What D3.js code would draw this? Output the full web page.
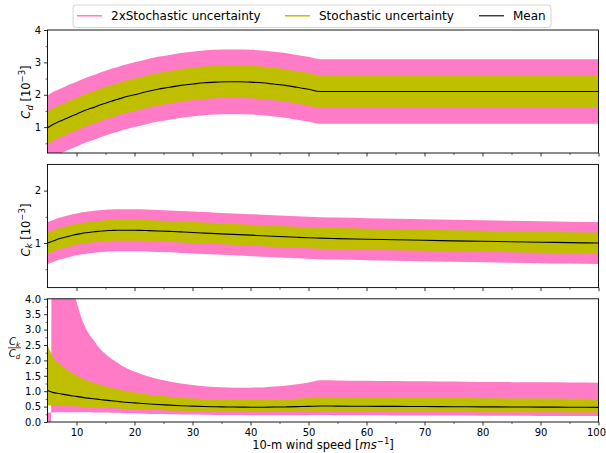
<!DOCTYPE html>
<html>
<head>
<meta charset="utf-8">
<script src="https://cdn.jsdelivr.net/npm/d3@7"></script>
<style>
  body { margin: 0; background: #ffffff; }
  svg { display: block; }
  text { font-family: "DejaVu Sans", sans-serif; fill: #000; }
</style>
</head>
<body>
<svg id="chart" width="606" height="453"></svg>
<script>
// 10-m wind speed samples [m/s]
const windSpeed = [5, 6, 7, 8, 9, 10, 11, 12, 13, 14, 15, 16, 17, 18, 19, 20,
  22, 24, 26, 28, 30, 32, 34, 36, 38, 40, 42, 44, 46, 48, 50, 52,
  55, 60, 65, 70, 75, 80, 85, 90, 95, 100];

// Drag coefficient mean [10^-3]
const cdMean = [0.98, 1.09, 1.17, 1.25, 1.33, 1.40, 1.48, 1.55, 1.61, 1.68, 1.74, 1.80, 1.85, 1.91, 1.96, 2.00,
  2.09, 2.17, 2.23, 2.29, 2.33, 2.37, 2.39, 2.40, 2.40, 2.39, 2.37, 2.33, 2.29, 2.23, 2.17, 2.10,
  2.10, 2.10, 2.10, 2.10, 2.10, 2.10, 2.10, 2.10, 2.10, 2.10];

// Enthalpy exchange coefficient mean [10^-3]
const ckMean = [1.00, 1.04, 1.08, 1.11, 1.14, 1.165, 1.185, 1.20, 1.215, 1.225, 1.235, 1.24, 1.245, 1.245, 1.245, 1.243,
  1.238, 1.231, 1.222, 1.212, 1.201, 1.19, 1.18, 1.17, 1.16, 1.15, 1.14, 1.13, 1.12, 1.11, 1.10, 1.093,
  1.085, 1.073, 1.062, 1.052, 1.042, 1.033, 1.024, 1.016, 1.008, 1.00];

// Stochastic (one standard deviation) uncertainty [10^-3]
const cdStd = 0.5;
const ckStd = 0.2;

const xTicks = [10, 20, 30, 40, 50, 60, 70, 80, 90, 100];
const xMinorTicks = [15, 25, 35, 45, 55, 65, 75, 85, 95];
const cdTicks = [1, 2, 3, 4];
const cdMinorTicks = [0.5, 1.5, 2.5, 3.5];
const ckTicks = [1, 2];
const ckMinorTicks = [0.5, 1.5];
const ratioTicks = [0, 0.5, 1, 1.5, 2, 2.5, 3, 3.5, 4];
const ratioMinorTicks = [0.25, 0.75, 1.25, 1.75, 2.25, 2.75, 3.25, 3.75];
const legendLabels = ["2xStochastic uncertainty", "Stochastic uncertainty", "Mean"];

const colors = { wide: "#ff7bc6", narrow: "#bfbf00", mean: "#000000" };

// Rows of the three panels: mean with one- and two-sigma envelopes
const rows = windSpeed.map((w, i) => {
  const cd = cdMean[i], ck = ckMean[i];
  return {
    w,
    cd: { mean: cd, lo1: cd - cdStd, hi1: cd + cdStd, lo2: cd - 2 * cdStd, hi2: cd + 2 * cdStd },
    ck: { mean: ck, lo1: ck - ckStd, hi1: ck + ckStd, lo2: ck - 2 * ckStd, hi2: ck + 2 * ckStd },
    ratio: {
      mean: ck / cd,
      lo1: (ck - ckStd) / (cd + cdStd), hi1: (ck + ckStd) / (cd - cdStd),
      lo2: (ck - 2 * ckStd) / (cd + 2 * cdStd), hi2: (ck + 2 * ckStd) / (cd - 2 * cdStd)
    }
  };
});

const svg = d3.select("#chart");
const left = 47.5, right = 598.5;
const x = d3.scaleLinear().domain([5, 100]).range([left, right]);

const panels = [
  { key: "cd", top: 30, bottom: 153, domain: [0.2, 4], ticks: cdTicks, minor: cdMinorTicks, fmt: d3.format("d") },
  { key: "ck", top: 164.4, bottom: 287.6, domain: [0.15, 2.5], ticks: ckTicks, minor: ckMinorTicks, fmt: d3.format("d") },
  { key: "ratio", top: 298.8, bottom: 422, domain: [0, 4], ticks: ratioTicks, minor: ratioMinorTicks, fmt: d3.format(".1f") }
];

panels.forEach((p, pi) => {
  const y = d3.scaleLinear().domain(p.domain).range([p.bottom, p.top]);
  const g = svg.append("g");
  const clipId = "clip" + pi;
  svg.append("clipPath").attr("id", clipId)
    .append("rect").attr("x", left).attr("y", p.top)
    .attr("width", right - left).attr("height", p.bottom - p.top);

  const plot = g.append("g").attr("clip-path", `url(#${clipId})`);
  const band = (lo, hi) => d3.area()
    .curve(d3.curveMonotoneX)
    .x(d => x(d.w))
    .y0(d => y(d[p.key][lo]))
    .y1(d => y(d[p.key][hi]));

  plot.append("path").datum(rows).attr("d", band("lo2", "hi2")).attr("fill", colors.wide);
  plot.append("path").datum(rows).attr("d", band("lo1", "hi1")).attr("fill", colors.narrow);
  plot.append("path").datum(rows)
    .attr("d", d3.line().curve(d3.curveMonotoneX).x(d => x(d.w)).y(d => y(d[p.key].mean)))
    .attr("fill", "none").attr("stroke", colors.mean).attr("stroke-width", 1.1);

  // y axis
  const yAxis = g.append("g").attr("transform", `translate(${left},0)`)
    .call(d3.axisLeft(y).tickValues(p.ticks).tickFormat(p.fmt).tickSize(3.5).tickPadding(3));
  yAxis.select(".domain").remove();
  yAxis.selectAll("text").attr("font-size", 10).attr("font-family", "DejaVu Sans, sans-serif");
  yAxis.selectAll("line").attr("stroke-width", 0.8);
  const yMinor = g.append("g").attr("transform", `translate(${left},0)`)
    .call(d3.axisLeft(y).tickValues(p.minor).tickFormat("").tickSize(2));
  yMinor.select(".domain").remove();
  yMinor.selectAll("line").attr("stroke-width", 0.6);

  // x axis (labels on the bottom panel only)
  const xAxis = g.append("g").attr("transform", `translate(0,${p.bottom})`)
    .call(d3.axisBottom(x).tickValues(xTicks).tickFormat(pi === 2 ? d3.format("d") : "").tickSize(3.5).tickPadding(3));
  xAxis.select(".domain").remove();
  xAxis.selectAll("text").attr("font-size", 10).attr("font-family", "DejaVu Sans, sans-serif");
  xAxis.selectAll("line").attr("stroke-width", 0.8);
  // keep the last tick label inside the canvas
  xAxis.selectAll(".tick").filter(d => d === 100).select("text").attr("text-anchor", "end").attr("x", 7);
  const xMinor = g.append("g").attr("transform", `translate(0,${p.bottom})`)
    .call(d3.axisBottom(x).tickValues(xMinorTicks).tickFormat("").tickSize(2));
  xMinor.select(".domain").remove();
  xMinor.selectAll("line").attr("stroke-width", 0.6);

  // frame
  g.append("rect").attr("x", left).attr("y", p.top)
    .attr("width", right - left).attr("height", p.bottom - p.top)
    .attr("fill", "none").attr("stroke", "#000").attr("stroke-width", 0.9);
});

// y-axis labels
function rotatedLabel(cx, cy, sub) {
  const t = svg.append("text")
    .attr("transform", `translate(${cx},${cy}) rotate(-90)`)
    .attr("text-anchor", "middle").attr("font-size", 11.5);
  t.append("tspan").attr("font-style", "italic").text("C");
  t.append("tspan").attr("font-style", "italic").attr("font-size", 8.5).attr("dy", 2.5).text(sub);
  t.append("tspan").attr("dy", -2.5).text(" [10");
  t.append("tspan").attr("font-size", 8.5).attr("dy", -5).text("\u22123");
  t.append("tspan").attr("dy", 5).text("]");
}
rotatedLabel(30, 92, "d");
rotatedLabel(29.5, 230, "k");

// ratio label as a stacked fraction
function coeff(cx, baseline, sub) {
  const t = svg.append("text").attr("x", cx).attr("y", baseline)
    .attr("text-anchor", "middle").attr("font-size", 10);
  t.append("tspan").attr("font-style", "italic").text("C");
  t.append("tspan").attr("font-style", "italic").attr("font-size", 7).attr("dy", 2).text(sub);
}
coeff(14.5, 345, "k");
svg.append("line").attr("x1", 8).attr("x2", 21).attr("y1", 347.8).attr("y2", 347.8)
  .attr("stroke", "#000").attr("stroke-width", 0.7);
coeff(14.5, 356.5, "d");

// x-axis label
const xl = svg.append("text").attr("x", (left + right) / 2).attr("y", 449)
  .attr("text-anchor", "middle").attr("font-size", 11.5);
xl.append("tspan").text("10-m wind speed [");
xl.append("tspan").attr("font-style", "italic").text("ms");
xl.append("tspan").attr("font-size", 8.5).attr("dy", -5).text("\u22121");
xl.append("tspan").attr("dy", 5).text("]");

// legend
const legend = svg.append("g");
legend.append("rect").attr("x", 73).attr("y", 5).attr("width", 478).attr("height", 22.5)
  .attr("rx", 3).attr("fill", "#fff").attr("fill-opacity", 0.8)
  .attr("stroke", "#cccccc").attr("stroke-width", 0.8);
const legendItems = [
  { label: legendLabels[0], color: colors.wide, x: 77 },
  { label: legendLabels[1], color: colors.narrow, x: 285 },
  { label: legendLabels[2], color: colors.mean, x: 479 }
];
legendItems.forEach(it => {
  legend.append("line").attr("x1", it.x).attr("x2", it.x + 25).attr("y1", 15.8).attr("y2", 15.8)
    .attr("stroke", it.color).attr("stroke-width", it.color === colors.mean ? 1.1 : 1.5);
  legend.append("text").attr("x", it.x + 34).attr("y", 20).attr("font-size", 12).text(it.label);
});
</script>
</body>
</html>
